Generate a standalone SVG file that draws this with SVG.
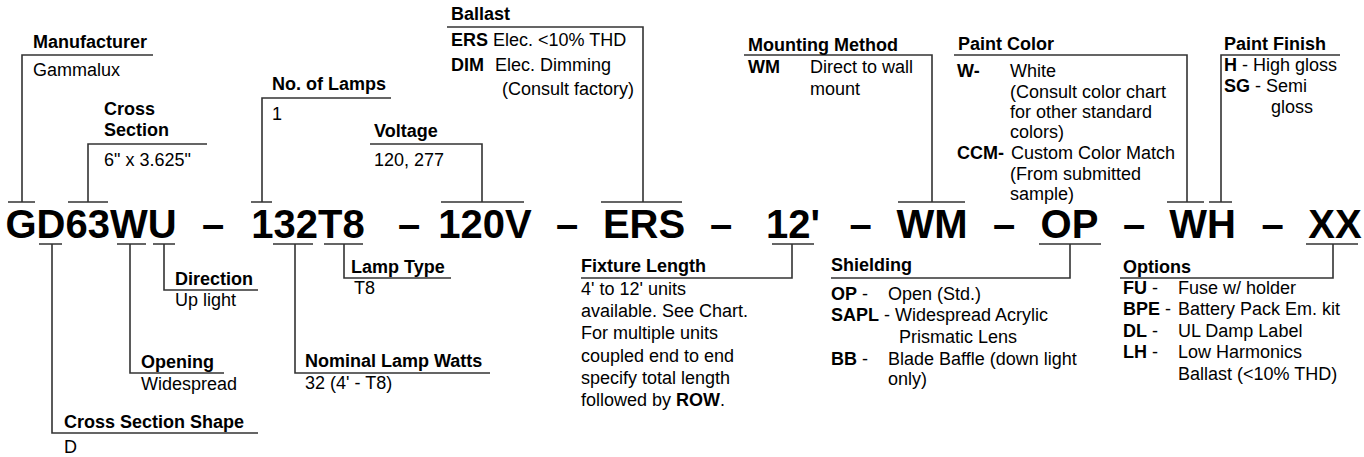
<svg xmlns="http://www.w3.org/2000/svg" width="1364" height="457" viewBox="0 0 1364 457">
<style>
.lbl{font-family:"Liberation Sans",Arial,sans-serif;font-weight:bold;font-size:18px;fill:#000}
.val{font-family:"Liberation Sans",Arial,sans-serif;font-size:18px;fill:#000}
.b{font-weight:bold}
.code{font-family:"Liberation Sans",Arial,sans-serif;font-weight:bold;font-size:40px;fill:#000;text-anchor:middle}
.conn{stroke:#333;stroke-width:1.6;fill:none}
</style>
<rect width="1364" height="457" fill="#fff"/>
<g id="connectors">
<path class="conn" d="M8,202H35M22,202V55H153"/>
<path class="conn" d="M68,202H108M88,202V144H207"/>
<path class="conn" d="M251,202H272M262,202V98H391"/>
<path class="conn" d="M441,202H524M482,202V144H370"/>
<path class="conn" d="M601,202H682M643,202V27H447"/>
<path class="conn" d="M898,202H965M932,202V55H744"/>
<path class="conn" d="M1167,202H1204M1187,202V55H954"/>
<path class="conn" d="M1209,202H1232M1221,202V55H1340"/>
<path class="conn" d="M39,244H62M52,244V433H258"/>
<path class="conn" d="M117,244H146M130,244V373H224"/>
<path class="conn" d="M153,244H175M164,244V290H258"/>
<path class="conn" d="M273,244H313M295,244V373H490"/>
<path class="conn" d="M324,244H363M344,244V278H451"/>
<path class="conn" d="M772,244H814M792,244V278H581"/>
<path class="conn" d="M1039,244H1101M1070,244V278H831"/>
<path class="conn" d="M1306,244H1358M1333,244V278H1120"/>
</g>
<g id="code">
<text class="code" x="91" y="238">GD63WU</text>
<text class="code" x="213" y="238">–</text>
<text class="code" x="308" y="238">132T8</text>
<text class="code" x="409" y="238">–</text>
<text class="code" x="485" y="238">120V</text>
<text class="code" x="567" y="238">–</text>
<text class="code" x="644" y="238">ERS</text>
<text class="code" x="721" y="238">–</text>
<text class="code" x="793" y="238">12'</text>
<text class="code" x="860.5" y="238">–</text>
<text class="code" x="932" y="238">WM</text>
<text class="code" x="1004" y="238">–</text>
<text class="code" x="1069.5" y="238">OP</text>
<text class="code" x="1134" y="238">–</text>
<text class="code" x="1202.5" y="238">WH</text>
<text class="code" x="1272.5" y="238">–</text>
<text class="code" x="1335" y="238">XX</text>
</g>
<g id="manufacturer">
<text class="lbl" x="33" y="48">Manufacturer</text>
<text class="val" x="33" y="76">Gammalux</text>
</g>
<g id="cross-section">
<text class="lbl" x="104" y="115">Cross</text>
<text class="lbl" x="104" y="136">Section</text>
<text class="val" x="104" y="166">6" x 3.625"</text>
</g>
<g id="no-of-lamps">
<text class="lbl" x="272" y="90">No. of Lamps</text>
<text class="val" x="272" y="120">1</text>
</g>
<g id="voltage">
<text class="lbl" x="374" y="137">Voltage</text>
<text class="val" x="374" y="166">120, 277</text>
</g>
<g id="ballast">
<text class="lbl" x="451" y="20">Ballast</text>
<text class="val" y="46"><tspan class="b" x="451">ERS</tspan><tspan x="493">Elec. &lt;10% THD</tspan></text>
<text class="val" y="71"><tspan class="b" x="451">DIM</tspan><tspan x="495">Elec. Dimming</tspan></text>
<text class="val" x="502" y="95">(Consult factory)</text>
</g>
<g id="mounting-method">
<text class="lbl" x="748" y="51">Mounting Method</text>
<text class="val" y="73"><tspan class="b" x="748">WM</tspan><tspan x="810">Direct to wall</tspan></text>
<text class="val" x="810" y="95">mount</text>
</g>
<g id="paint-color">
<text class="lbl" x="958" y="50">Paint Color</text>
<text class="val" y="77"><tspan class="b" x="957">W-</tspan><tspan x="1010">White</tspan></text>
<text class="val" x="1010" y="98">(Consult color chart</text>
<text class="val" x="1010" y="118">for other standard</text>
<text class="val" x="1010" y="138">colors)</text>
<text class="val" y="159"><tspan class="b" x="957">CCM-</tspan><tspan x="1011">Custom Color Match</tspan></text>
<text class="val" x="1010" y="180">(From submitted</text>
<text class="val" x="1010" y="200">sample)</text>
</g>
<g id="paint-finish">
<text class="lbl" x="1224" y="50">Paint Finish</text>
<text class="val" x="1224" y="71"><tspan class="b">H</tspan> - High gloss</text>
<text class="val" x="1224" y="92"><tspan class="b">SG</tspan> - Semi</text>
<text class="val" x="1271" y="113">gloss</text>
</g>
<g id="cross-section-shape">
<text class="lbl" x="64" y="428">Cross Section Shape</text>
<text class="val" x="64" y="453">D</text>
</g>
<g id="opening">
<text class="lbl" x="141" y="368">Opening</text>
<text class="val" x="141" y="390">Widespread</text>
</g>
<g id="direction">
<text class="lbl" x="175" y="285">Direction</text>
<text class="val" x="175" y="306">Up light</text>
</g>
<g id="nominal-lamp-watts">
<text class="lbl" x="305" y="367">Nominal Lamp Watts</text>
<text class="val" x="305" y="389">32 (4' - T8)</text>
</g>
<g id="lamp-type">
<text class="lbl" x="351" y="273">Lamp Type</text>
<text class="val" x="354" y="294">T8</text>
</g>
<g id="fixture-length">
<text class="lbl" x="581" y="272">Fixture Length</text>
<text class="val" x="581" y="295">4' to 12' units</text>
<text class="val" x="581" y="317">available. See Chart.</text>
<text class="val" x="581" y="339">For multiple units</text>
<text class="val" x="581" y="362">coupled end to end</text>
<text class="val" x="581" y="384">specify total length</text>
<text class="val" x="581" y="406">followed by <tspan class="b">ROW</tspan>.</text>
</g>
<g id="shielding">
<text class="lbl" x="831" y="271">Shielding</text>
<text class="val" y="300"><tspan class="b" x="831">OP</tspan> -<tspan x="888">Open (Std.)</tspan></text>
<text class="val" x="831" y="321"><tspan class="b">SAPL</tspan> - Widespread Acrylic</text>
<text class="val" x="899" y="343">Prismatic Lens</text>
<text class="val" y="365"><tspan class="b" x="831">BB</tspan> -<tspan x="888">Blade Baffle (down light</tspan></text>
<text class="val" x="888" y="385">only)</text>
</g>
<g id="options">
<text class="lbl" x="1123" y="273">Options</text>
<text class="val" y="294"><tspan class="b" x="1123">FU</tspan> -<tspan x="1178">Fuse w/ holder</tspan></text>
<text class="val" y="315"><tspan class="b" x="1123">BPE</tspan> -<tspan x="1178">Battery Pack Em. kit</tspan></text>
<text class="val" y="337"><tspan class="b" x="1123">DL</tspan> -<tspan x="1178">UL Damp Label</tspan></text>
<text class="val" y="358"><tspan class="b" x="1123">LH</tspan> -<tspan x="1178">Low Harmonics</tspan></text>
<text class="val" x="1178" y="380">Ballast (&lt;10% THD)</text>
</g>
</svg>
